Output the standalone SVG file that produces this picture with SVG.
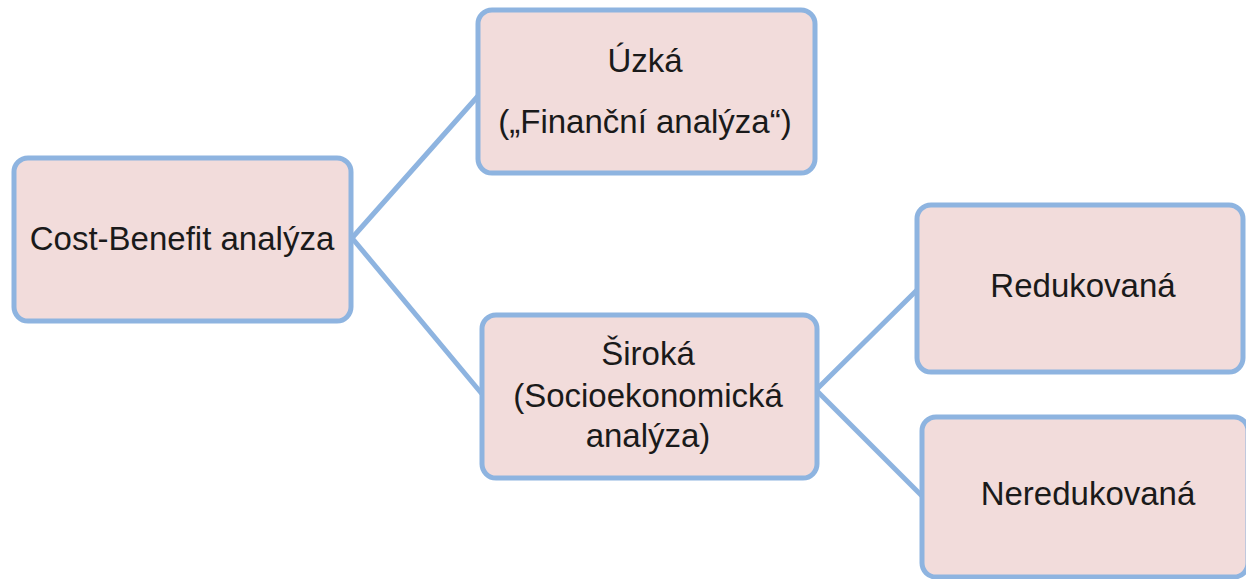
<svg xmlns="http://www.w3.org/2000/svg" width="1246" height="579" viewBox="0 0 1246 579">
<style>
.box{fill:#f2dcdb;stroke:#8eb4e0;stroke-width:5}
.lbl{font-family:"Liberation Sans",Arial,sans-serif;font-size:33px;fill:#1a1a1a;text-anchor:middle}
.con{stroke:#8eb4e0;stroke-width:5;fill:none;stroke-linecap:round}
</style>
<rect width="1246" height="579" fill="#ffffff"/>
<g id="connectors">
<line class="con" x1="352" y1="238" x2="478" y2="96"/>
<line class="con" x1="352" y1="238" x2="482" y2="394"/>
<line class="con" x1="816" y1="390" x2="917" y2="290"/>
<line class="con" x1="816" y1="390" x2="922" y2="496"/>
</g>
<g id="n-cba">
<rect class="box" x="14" y="158" width="337" height="163" rx="14"/>
<text class="lbl" x="182" y="250">Cost-Benefit analýza</text>
</g>
<g id="n-uzka">
<rect class="box" x="478" y="10" width="337" height="163" rx="14"/>
<text class="lbl" x="645" y="72">Úzká</text>
<text class="lbl" x="645" y="133">(„Finanční analýza“)</text>
</g>
<g id="n-siroka">
<rect class="box" x="482" y="315" width="335" height="163" rx="14"/>
<text class="lbl" x="648" y="365">Široká</text>
<text class="lbl" x="648" y="407">(Socioekonomická</text>
<text class="lbl" x="648" y="447">analýza)</text>
</g>
<g id="n-redukovana">
<rect class="box" x="917" y="205" width="326" height="167" rx="14"/>
<text class="lbl" x="1083" y="297">Redukovaná</text>
</g>
<g id="n-neredukovana">
<rect class="box" x="922" y="417" width="326" height="160" rx="14"/>
<text class="lbl" x="1088" y="505">Neredukovaná</text>
</g>
</svg>
